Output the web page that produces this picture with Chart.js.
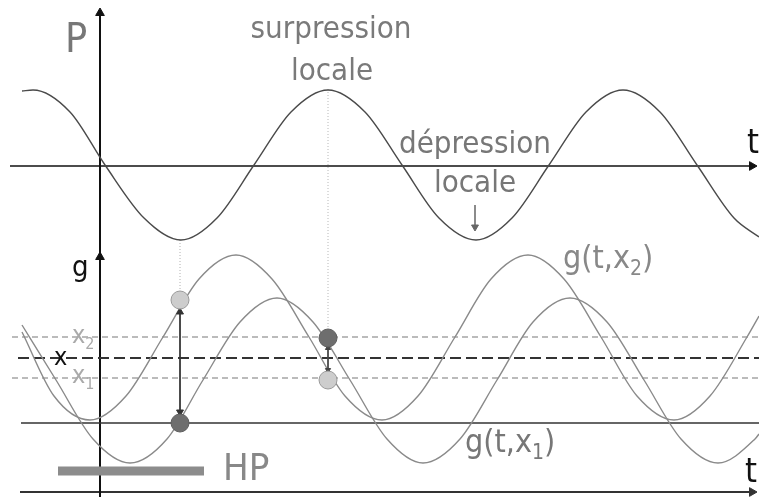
<!DOCTYPE html>
<html>
<head>
<meta charset="utf-8">
<script src="https://cdn.jsdelivr.net/npm/chart.js@4"></script>
<style>
  html, body { margin: 0; padding: 0; background: #fff; }
  canvas { display: block; }
</style>
</head>
<body>
<canvas id="c" width="759" height="497"></canvas>
<script>
// t is measured from the vertical axis; P and g in diagram units
const tP = [-78, -67, -30, 5, 44, 81, 117, 154, 191, 228, 265, 302, 339, 376, 412, 449, 486, 523, 560, 597, 634, 659];
const pValues = [75, 76, 54, 1, -52, -74, -52, 1, 54, 76, 54, 1, -52, -74, -52, 1, 54, 76, 54, 1, -52, -71];

const tX2 = [-78, -46, -10, 26, 63, 99, 136, 172, 209, 245, 282, 318, 355, 391, 428, 464, 501, 537, 574, 610, 647, 659];
const gX2 = [160, 96, 72, 96, 155, 213, 237, 213, 155, 96, 72, 96, 155, 213, 237, 213, 155, 96, 72, 96, 155, 176];

const tX1 = [-78, -44, -7, 30, 67, 103, 140, 177, 213, 250, 287, 323, 360, 397, 433, 470, 507, 544, 581, 618, 655, 659];
const gX1 = [167, 112, 53, 29, 53, 112, 170, 194, 170, 112, 53, 29, 53, 112, 170, 194, 170, 112, 53, 29, 53, 58];

// horizontal levels on the g axis
const levelX2 = 155;
const levelX = 134;
const levelX1 = 114;
const levelHP = 69;
const hpBar = 21;

// instants compared (P minimum and P maximum)
const tCompare = [80, 228];
const lightDots = [192, 112];   // g(t,x2) at those instants
const darkDots = [69, 154];     // g(t,x1) at those instants

const FONT = '"DejaVu Sans Condensed", "DejaVu Sans", sans-serif';

const LABELS = [
    { parts: [{ s: 'P' }], t: -35, v: 114, axis: 'yP', size: 41, color: '#777' },
    { parts: [{ s: 'surpression' }], t: 231, v: 128, axis: 'yP', size: 31, color: '#7a7a7a', align: 'center' },
    { parts: [{ s: 'locale' }], t: 232, v: 86, axis: 'yP', size: 31, color: '#7a7a7a', align: 'center' },
    { parts: [{ s: 'dépression' }], t: 375, v: 13, axis: 'yP', size: 31, color: '#777', align: 'center' },
    { parts: [{ s: 'locale' }], t: 375, v: -26, axis: 'yP', size: 31, color: '#777', align: 'center' },
    { parts: [{ s: 't' }], t: 647, v: 13, axis: 'yP', size: 34, color: '#111' },
    { parts: [{ s: 'g' }], t: -28, v: 216, axis: 'yG', size: 29, color: '#111' },
    { parts: [{ s: 't' }], t: 645, v: 10, axis: 'yG', size: 34, color: '#111' },
    { parts: [{ s: 'x' }, { s: '2', sub: true }], t: -28, v: 149, axis: 'yG', size: 25, color: '#aaa' },
    { parts: [{ s: 'x' }], t: -46, v: 127, axis: 'yG', size: 25, color: '#111' },
    { parts: [{ s: 'x' }, { s: '1', sub: true }], t: -28, v: 109, axis: 'yG', size: 25, color: '#aaa' },
    { parts: [{ s: 'g(t,x' }, { s: '2', sub: true }, { s: ')' }], t: 463, v: 224, axis: 'yG', size: 32, color: '#888' },
    { parts: [{ s: 'g(t,x' }, { s: '1', sub: true }, { s: ')' }], t: 365, v: 40, axis: 'yG', size: 32, color: '#777' },
    { parts: [{ s: 'HP' }], t: 123, v: 12, axis: 'yG', size: 38, color: '#888' }
];

const pts = (ts, vs) => ts.map((t, i) => ({ x: t, y: vs[i] }));

function hline(y, from, to, color, width, dash) {
    return {
        data: [{ x: from, y: y }, { x: to, y: y }],
        yAxisID: 'yG', borderColor: color, borderWidth: width, borderDash: dash || [],
        pointRadius: 0, tension: 0
    };
}

function arrowLine(data, axis, color, width, radii, rotations) {
    return {
        data: data, yAxisID: axis, borderColor: color, borderWidth: width,
        pointStyle: 'triangle', pointRadius: radii, pointRotation: rotations,
        pointBackgroundColor: color, pointBorderColor: color, pointBorderWidth: 1, tension: 0
    };
}

const labelPlugin = {
    id: 'diagramLabels',
    afterDatasetsDraw(chart) {
        const ctx = chart.ctx;
        const xs = chart.scales.x;
        LABELS.forEach(l => {
            const ys = chart.scales[l.axis];
            let x = xs.getPixelForValue(l.t);
            const y = ys.getPixelForValue(l.v);
            const fontFor = p => `${p.sub ? Math.round(l.size * 0.65) : l.size}px ${FONT}`;
            ctx.save();
            ctx.fillStyle = l.color;
            ctx.textBaseline = 'alphabetic';
            let total = 0;
            l.parts.forEach(p => { ctx.font = fontFor(p); total += ctx.measureText(p.s).width; });
            if (l.align === 'center') x -= total / 2;
            l.parts.forEach(p => {
                ctx.font = fontFor(p);
                ctx.fillText(p.s, x, y + (p.sub ? l.size * 0.22 : 0));
                x += ctx.measureText(p.s).width;
            });
            ctx.restore();
        });
    }
};

new Chart(document.getElementById('c'), {
    type: 'line',
    data: {
        datasets: [
            // dots
            {
                data: pts(tCompare, lightDots), yAxisID: 'yG', showLine: false,
                pointRadius: 9, pointBackgroundColor: '#cdcdcd', pointBorderColor: '#9a9a9a', pointBorderWidth: 1
            },
            {
                data: pts(tCompare, darkDots), yAxisID: 'yG', showLine: false,
                pointRadius: 9, pointBackgroundColor: '#6e6e6e', pointBorderColor: '#5e5e5e', pointBorderWidth: 1
            },
            // double arrows between the two curves
            arrowLine([{ x: tCompare[0], y: 180 }, { x: tCompare[0], y: 80 }], 'yG', '#333', 1, 4, [0, 180]),
            arrowLine([{ x: tCompare[1], y: 144 }, { x: tCompare[1], y: 122 }], 'yG', '#444', 1, 3, [0, 180]),
            // curves
            {
                data: pts(tP, pValues), yAxisID: 'yP', borderColor: '#4a4a4a', borderWidth: 1.4,
                pointRadius: 0, cubicInterpolationMode: 'monotone'
            },
            {
                data: pts(tX2, gX2), yAxisID: 'yG', borderColor: '#8a8a8a', borderWidth: 1.4,
                pointRadius: 0, cubicInterpolationMode: 'monotone'
            },
            {
                data: pts(tX1, gX1), yAxisID: 'yG', borderColor: '#8a8a8a', borderWidth: 1.4,
                pointRadius: 0, cubicInterpolationMode: 'monotone'
            },
            // levels
            hline(levelX2, -88, 659, '#a5a5a5', 1.5, [6, 4]),
            hline(levelX, -82, 659, '#333', 1.8, [11, 5]),
            hline(levelX1, -88, 659, '#a5a5a5', 1.5, [6, 4]),
            hline(levelHP, -79, 659, '#333', 1.6),
            hline(hpBar, -42, 104, '#8c8c8c', 9),
            // dotted guides from P extrema
            {
                data: [{ x: tCompare[0], y: 252 }, { x: tCompare[0], y: 202 }], yAxisID: 'yG',
                borderColor: '#b0b0b0', borderWidth: 1, borderDash: [1, 2], pointRadius: 0
            },
            {
                data: [{ x: tCompare[1], y: 403 }, { x: tCompare[1], y: 163 }], yAxisID: 'yG',
                borderColor: '#b8b8b8', borderWidth: 1, borderDash: [1, 2], pointRadius: 0
            },
            // axes
            arrowLine([{ x: 0, y: -5 }, { x: 0, y: 235 }, { x: 0, y: 479 }], 'yG', '#111', 2, [0, 5, 5], [0, 0, 0]),
            arrowLine([{ x: -90, y: 0 }, { x: 652, y: 0 }], 'yP', '#111', 1.6, [0, 5], [0, 90]),
            arrowLine([{ x: -80, y: 0 }, { x: 652, y: 0 }], 'yG', '#333', 2, [0, 5], [0, 90]),
            // small arrow under "dépression locale"
            arrowLine([{ x: 375, y: -39 }, { x: 375, y: -61 }], 'yP', '#666', 1.5, [0, 4], [0, 180])
        ]
    },
    options: {
        responsive: false,
        animation: false,
        events: [],
        layout: { padding: 0, autoPadding: false },
        plugins: { legend: { display: false }, tooltip: { enabled: false } },
        scales: {
            x: { type: 'linear', min: -100, max: 659, display: false },
            yP: { type: 'linear', min: -331, max: 166, display: false },
            yG: { type: 'linear', min: -5, max: 492, display: false }
        }
    },
    plugins: [labelPlugin]
});
</script>
</body>
</html>
